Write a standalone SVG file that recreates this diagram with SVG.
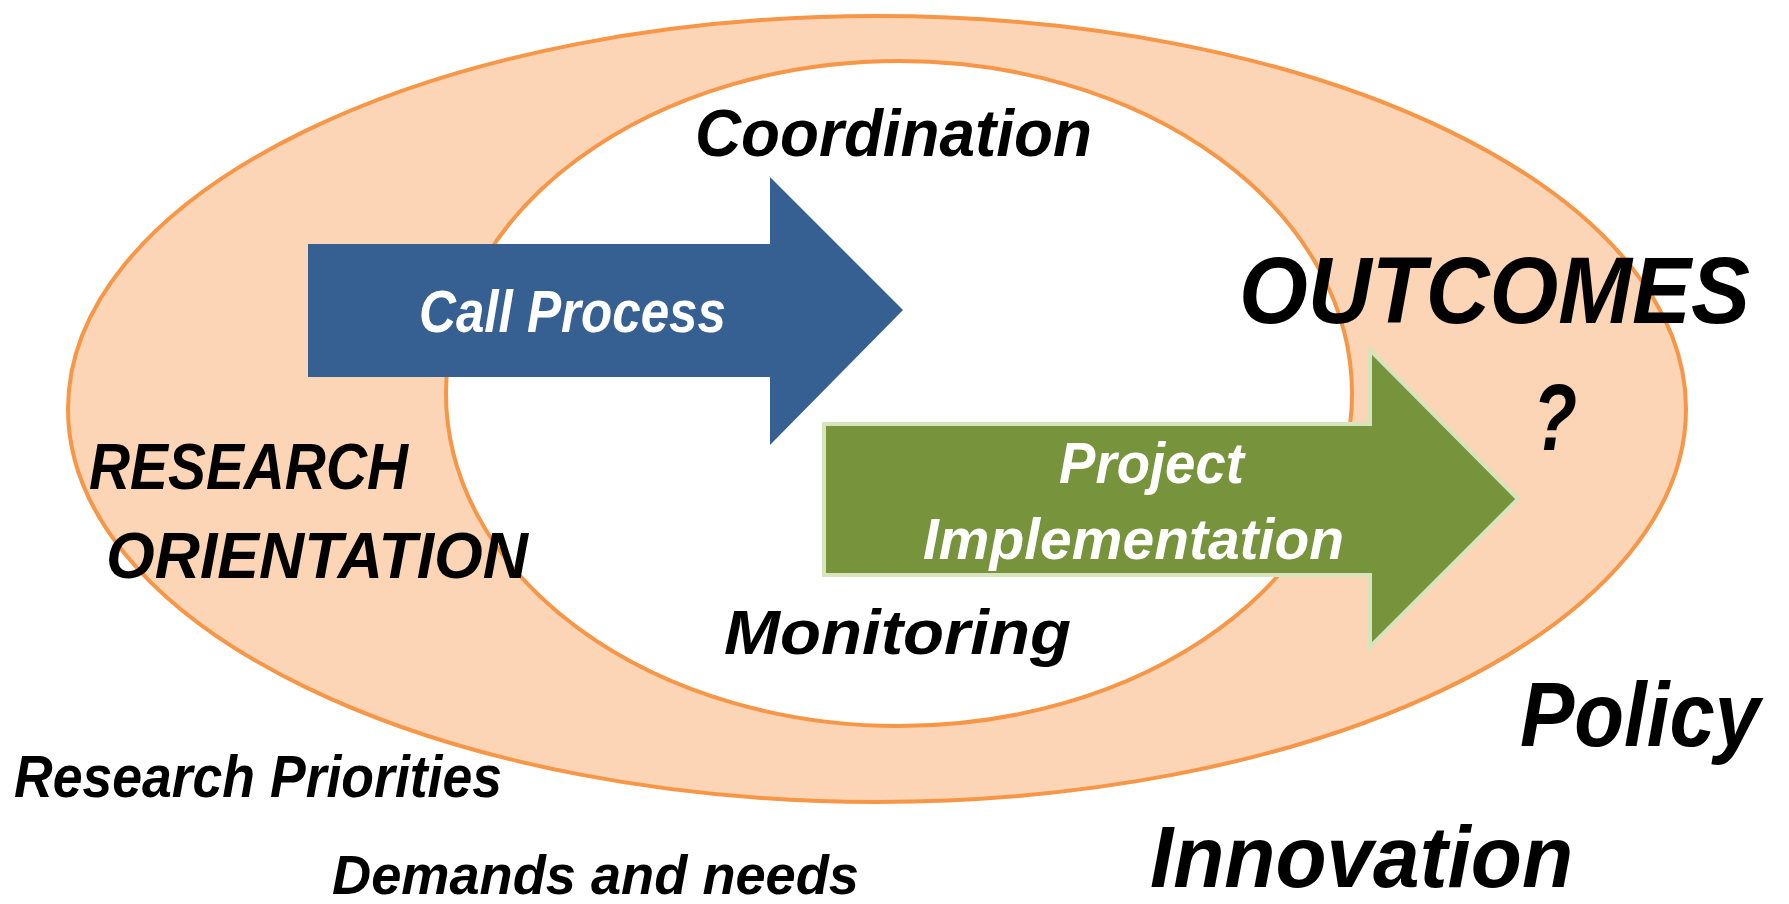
<svg xmlns="http://www.w3.org/2000/svg" width="1789" height="904" viewBox="0 0 1789 904">
<style>
.t{font-family:"Liberation Sans",Arial,sans-serif;font-weight:bold;font-style:italic;fill:#000}
.w{fill:#fff}
.ring{stroke:#F79646;stroke-width:4}
</style>
<rect width="1789" height="904" fill="#fff"/>
<g id="outer-ring"><ellipse class="ring" cx="877" cy="409" rx="809" ry="393" fill="#FBD5B5"/></g>
<g id="inner-ring"><ellipse class="ring" cx="899" cy="393.5" rx="453" ry="332.5" fill="#fff"/></g>
<g id="connectors">
<g id="call-process">
<polygon points="308,244 770,244 770,177 903,310 770,445 770,377 308,377" fill="#376092"/>
<text class="t w" x="419" y="332" font-size="59" textLength="307" lengthAdjust="spacingAndGlyphs">Call Process</text>
</g>
<g id="project-implementation">
<polygon points="824,424 1370,424 1370,350 1518,499 1370,647 1370,575 824,575" fill="#77933C" stroke="#D7E4BD" stroke-width="4"/>
<text class="t w" x="1059" y="483" font-size="57" textLength="185" lengthAdjust="spacingAndGlyphs">Project</text>
<text class="t w" x="923" y="559" font-size="57" textLength="421" lengthAdjust="spacingAndGlyphs">Implementation</text>
</g>
</g>
<g id="labels">
<text class="t" x="695" y="156" font-size="67" textLength="397" lengthAdjust="spacingAndGlyphs">Coordination</text>
<text class="t" x="1239" y="323" font-size="95" textLength="511" lengthAdjust="spacingAndGlyphs">OUTCOMES</text>
<text class="t" x="1533" y="450" font-size="95" textLength="44" lengthAdjust="spacingAndGlyphs">?</text>
<text class="t" x="89" y="489" font-size="65" textLength="319" lengthAdjust="spacingAndGlyphs">RESEARCH</text>
<text class="t" x="106" y="578" font-size="65" textLength="422" lengthAdjust="spacingAndGlyphs">ORIENTATION</text>
<text class="t" x="724" y="654" font-size="63" textLength="347" lengthAdjust="spacingAndGlyphs">Monitoring</text>
<text class="t" x="1520" y="746" font-size="90" textLength="240" lengthAdjust="spacingAndGlyphs">Policy</text>
<text class="t" x="1150" y="887" font-size="87" textLength="423" lengthAdjust="spacingAndGlyphs">Innovation</text>
<text class="t" x="14" y="797" font-size="59" textLength="488" lengthAdjust="spacingAndGlyphs">Research Priorities</text>
<text class="t" x="332" y="894" font-size="55" textLength="527" lengthAdjust="spacingAndGlyphs">Demands and needs</text>
</g>
</svg>
